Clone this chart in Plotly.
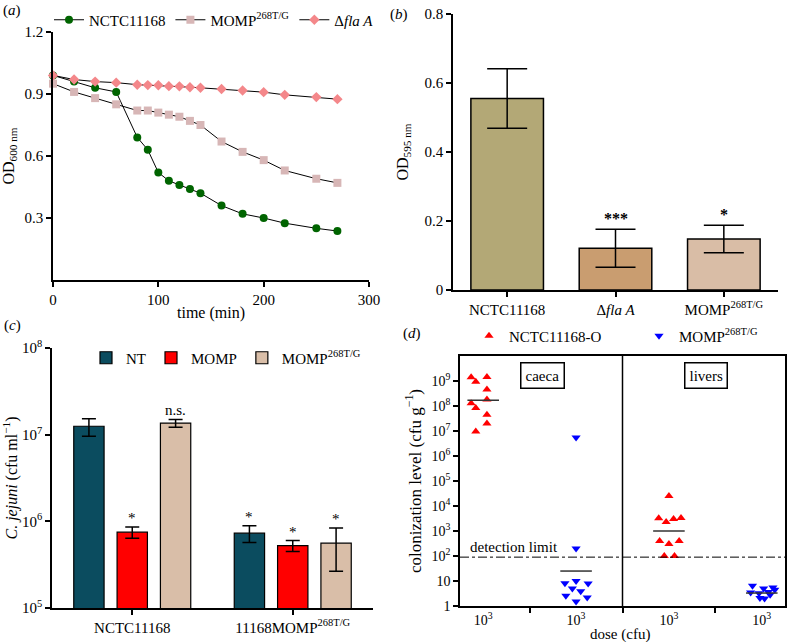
import math
import plotly.graph_objects as go

# ---- panel (a): lysis curves ----
time_min = [0, 20, 40, 60, 80, 90, 100, 110, 120, 130, 140, 160, 180, 200, 220, 250, 270]
od_nctc = [0.99, 0.96, 0.93, 0.91, 0.69, 0.63, 0.52, 0.48, 0.46, 0.44, 0.42, 0.36, 0.32, 0.30, 0.275, 0.25, 0.237]
od_momp = [0.95, 0.91, 0.88, 0.85, 0.82, 0.82, 0.81, 0.80, 0.79, 0.77, 0.75, 0.67, 0.62, 0.58, 0.53, 0.49, 0.47]
od_flaa = [0.99, 0.97, 0.96, 0.955, 0.945, 0.943, 0.942, 0.938, 0.937, 0.933, 0.93, 0.924, 0.917, 0.909, 0.896, 0.885, 0.875]

# ---- panel (b): biofilm ----
b_strains = ["NCTC11168", "Δ<i>fla A</i>", "MOMP<sup>268T/G</sup>"]
b_od = [0.555, 0.121, 0.148]
b_err = [0.086, 0.055, 0.04]
b_marks = ["", "***", "*"]

# ---- panel (c): cfu counts ----
c_groups = ["NCTC11168", "11168MOMP<sup>268T/G</sup>"]
c_series = ["NT", "MOMP", "MOMP<sup>268T/G</sup>"]
c_vals = [[1.25e7, 7.3e5], [7.5e5, 5.25e5], [1.36e7, 5.6e5]]
c_hi = [[1.53e7, 8.9e5], [8.6e5, 6.0e5], [1.5e7, 8.4e5]]
c_lo = [[9.6e6, 5.7e5], [6.4e5, 4.5e5], [1.22e7, 2.65e5]]
c_marks = [["", "*"], ["*", "*"], ["n.s.", "*"]]

# ---- panel (d): colonization ----
d_tick_labels = ["10<sup>3</sup>"] * 4
caeca_wt = [1.4e9, 9.3e8, 1.45e9, 4.6e8, 1.3e8, 8.3e7, 1.8e8, 4.5e7, 2.0e7, 9.5e6]
caeca_wt_off = [-0.13, -0.08, 0.04, 0.04, -0.13, -0.08, 0.04, 0.04, 0.04, -0.08]
livers_wt = [2.5e4, 3.2e3, 2.3e3, 3.0e3, 3.3e3, 400, 300, 400, 100, 100]
livers_wt_off = [0.0, -0.11, -0.03, 0.05, 0.13, -0.1, 0.0, 0.11, -0.05, 0.06]
caeca_mut = [5.5e6, 200, 8.2, 10, 8, 5, 3.9, 2.6, 2.2, 1.5]
caeca_mut_off = [0.0, 0.0, -0.12, 0.0, 0.13, -0.04, 0.05, -0.11, 0.12, 0.0]
livers_mut = [6.5, 5, 5.5, 3.5, 3.2, 3.6, 2.1, 2.0, 2.8, 4.5]
livers_mut_off = [-0.1, 0.02, 0.12, -0.12, -0.03, 0.07, -0.02, 0.03, 0.09, 0.14]
medians_wt = [1.7e8, 1000]
medians_mut = [25, 3.3]
detection_limit = 90

FONT = "Liberation Serif"
W, H = 787, 642


def fnt(size=15):
    return dict(family=FONT, size=size, color="black")


def dom_x(a, b):
    return [a / W, b / W]


def dom_y(top, bottom):
    return [1 - bottom / H, 1 - top / H]


fig = go.Figure()

# panel a
for name, vals, sym, col in [("NCTC11168", od_nctc, "circle", "#006400"),
                             ("MOMP<sup>268T/G</sup>", od_momp, "square", "#D7B6B6"),
                             ("Δ<i>fla A</i>", od_flaa, "diamond", "#F4878A")]:
    fig.add_trace(go.Scatter(x=time_min, y=vals, name=name, mode="lines+markers",
                             line=dict(color="black", width=1),
                             marker=dict(symbol=sym, size=8, color=col, line=dict(width=0)),
                             xaxis="x", yaxis="y", legend="legend", cliponaxis=False))

# panel b
fig.add_trace(go.Bar(x=b_strains, y=b_od, width=0.67, showlegend=False,
                     marker=dict(color=["#B3A876", "#C99D70", "#D9BDA6"], line=dict(color="black", width=1.5)),
                     error_y=dict(type="data", array=b_err, color="black", thickness=1.5, width=20),
                     xaxis="x2", yaxis="y2"))

# panel c
c_colors = ["#0B4C5F", "#FF0000", "#D9BEA8"]
for i, s in enumerate(c_series):
    fig.add_trace(go.Bar(x=c_groups, y=c_vals[i], name=s, legend="legend2",
                         marker=dict(color=c_colors[i], line=dict(color="black", width=1.2)),
                         error_y=dict(type="data", symmetric=False,
                                      array=[h - v for h, v in zip(c_hi[i], c_vals[i])],
                                      arrayminus=[v - l for l, v in zip(c_lo[i], c_vals[i])],
                                      color="black", thickness=1.5, width=7),
                         xaxis="x3", yaxis="y3"))

# panel d
fig.add_trace(go.Scatter(x=[1 + o for o in caeca_wt_off] + [3 + o for o in livers_wt_off],
                         y=caeca_wt + livers_wt, mode="markers", name="NCTC11168-O",
                         marker=dict(symbol="triangle-up", size=8, color="#FF0000"),
                         legend="legend3", xaxis="x4", yaxis="y4"))
fig.add_trace(go.Scatter(x=[2 + o for o in caeca_mut_off] + [4 + o for o in livers_mut_off],
                         y=caeca_mut + livers_mut, mode="markers", name="MOMP<sup>268T/G</sup>",
                         marker=dict(symbol="triangle-down", size=8, color="#0000FF"),
                         legend="legend4", xaxis="x4", yaxis="y4"))
mx, my = [], []
for pos, m in zip([1, 3, 2, 4], medians_wt + medians_mut):
    mx += [pos - 0.17, pos + 0.17, None]
    my += [m, m, None]
fig.add_trace(go.Scatter(x=mx, y=my, mode="lines", line=dict(color="#333333", width=1.5),
                         showlegend=False, xaxis="x4", yaxis="y4"))

ax = dict(showline=True, linecolor="black", linewidth=1.5, ticks="outside", ticklen=5,
          tickcolor="black", tickwidth=1.5, showgrid=False, zeroline=False, automargin=False,
          tickfont=fnt(15))

c_log_ticks = [1e5, 1e6, 1e7, 1e8]
d_log_ticks = [10 ** k for k in range(10)]

annotations = []
for txt, x, y in [("(<i>a</i>)", 12, 10), ("(<i>b</i>)", 399, 15), ("(<i>c</i>)", 12, 325), ("(<i>d</i>)", 412, 333)]:
    annotations.append(dict(text=txt, x=x / W, y=1 - y / H, xref="paper", yref="paper",
                            xanchor="center", yanchor="middle", showarrow=False, font=fnt(15)))
for i, mk in enumerate(b_marks):
    if mk:
        annotations.append(dict(text="<b>" + mk + "</b>", x=i, y=b_od[i] + b_err[i], xref="x2", yref="y2",
                                yanchor="bottom", showarrow=False, font=fnt(16), yshift=0))
slot = (1 - 0.19) / 3
for i in range(3):
    for g in range(2):
        mk = c_marks[i][g]
        if mk:
            annotations.append(dict(text=mk, x=g + (i - 1) * slot, y=math.log10(c_hi[i][g]), xref="x3", yref="y3",
                                    yanchor="bottom", showarrow=False, font=fnt(15), yshift=-1))
annotations += [
    dict(text="caeca", x=1.64, y=9.2, xref="x4", yref="y4", showarrow=False, bordercolor="black",
         borderwidth=1.5, borderpad=4, font=fnt(15)),
    dict(text="livers", x=3.4, y=9.2, xref="x4", yref="y4", showarrow=False, bordercolor="black",
         borderwidth=1.5, borderpad=4, font=fnt(15)),
    dict(text="detection limit", x=0.84, y=math.log10(detection_limit), xref="x4", yref="y4",
         xanchor="left", yanchor="bottom", showarrow=False, font=fnt(15)),
    dict(text="dose (cfu)", x=620 / W, y=1 - 634 / H, xref="paper", yref="paper",
         xanchor="center", yanchor="middle", showarrow=False, font=fnt(15)),
]

shapes = [
    dict(type="line", xref="x4", yref="y4 domain", x0=2.5, x1=2.5, y0=0, y1=1,
         line=dict(color="black", width=1.5)),
    dict(type="line", xref="x4 domain", yref="y4", x0=0, x1=1, y0=detection_limit, y1=detection_limit,
         line=dict(color="black", width=1, dash="dashdot")),
]

leg = dict(orientation="h", bgcolor="rgba(0,0,0,0)", font=fnt(15), itemwidth=30,
           yanchor="middle", xanchor="left", tracegroupgap=0)

fig.update_layout(
    width=W, height=H, margin=dict(l=0, r=0, t=0, b=0),
    paper_bgcolor="white", plot_bgcolor="white",
    font=fnt(15),
    barmode="group", bargap=0.19, bargroupgap=0.3,
    xaxis=dict(ax, domain=dom_x(53, 369), range=[0, 300], tickvals=[0, 100, 200, 300], anchor="y",
               title=dict(text="time (min)", standoff=0, font=fnt(16))),
    yaxis=dict(ax, domain=dom_y(32, 280), range=[0, 1.2], tickvals=[0.3, 0.6, 0.9, 1.2], anchor="x",
               title=dict(text="OD<sub>600 nm</sub>", standoff=8, font=fnt(16))),
    xaxis2=dict(ax, domain=dom_x(453, 778), range=[-0.5, 2.5], anchor="y2"),
    yaxis2=dict(ax, domain=dom_y(14, 290), range=[0, 0.8], tickvals=[0, 0.2, 0.4, 0.6, 0.8], anchor="x2",
                title=dict(text="OD<sub>595 nm</sub>", standoff=12, font=fnt(16))),
    xaxis3=dict(ax, domain=dom_x(52, 373), range=[-0.5, 1.5], anchor="y3"),
    yaxis3=dict(ax, domain=dom_y(348, 608), type="log", range=[5, 8], tickvals=c_log_ticks,
                ticktext=["10<sup>%d</sup>" % round(math.log10(v)) for v in c_log_ticks], anchor="x3",
                title=dict(text="<i>C. jejuni</i> (cfu ml<sup>−1</sup>)", standoff=8, font=fnt(16))),
    xaxis4=dict(ax, domain=dom_x(460, 785), range=[0.75, 4.25], tickvals=[1, 2, 3, 4],
                ticktext=d_tick_labels, ticks="", mirror=True, anchor="y4", tickfont=fnt(14),
                minor=dict(tickvals=[1.5, 2.5, 3.5], ticks="outside", ticklen=5, tickcolor="black", tickwidth=1.5)),
    yaxis4=dict(ax, domain=dom_y(356, 606), type="log", range=[0, 10], tickvals=d_log_ticks, tickfont=fnt(14),
                ticktext=["1", "10"] + ["10<sup>%d</sup>" % k for k in range(2, 10)], mirror=True, anchor="x4",
                title=dict(text="colonization level (cfu g<sup>−1</sup>)", standoff=6, font=fnt(17))),
    legend=dict(leg, x=49 / W, y=1 - 20 / H),
    legend2=dict(leg, x=86 / W, y=1 - 358 / H),
    legend3=dict(leg, x=469 / W, y=1 - 336 / H),
    legend4=dict(leg, x=639 / W, y=1 - 336 / H),
    annotations=annotations, shapes=shapes,
)

fig.write_html("out.html", config={"displayModeBar": False},
               post_script="document.body.style.margin='0';")
